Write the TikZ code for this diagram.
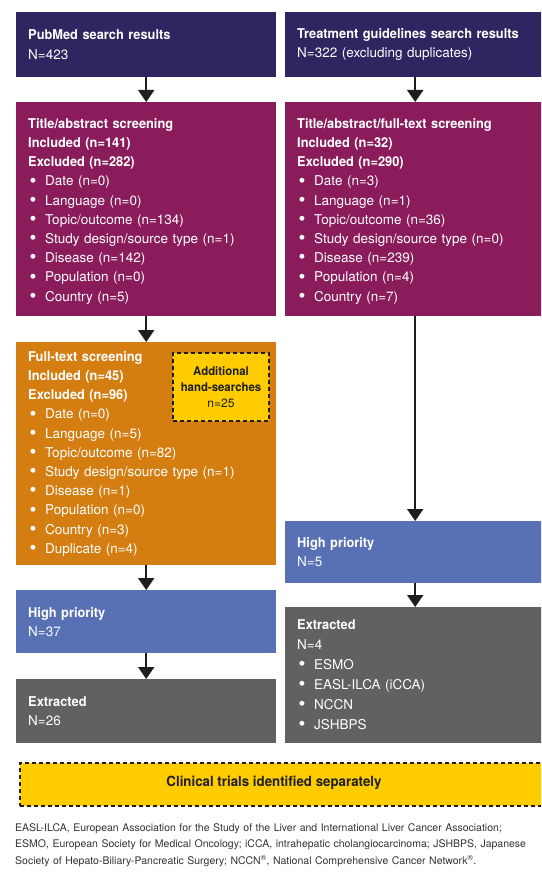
\documentclass[tikz,border=0pt]{standalone}
\usepackage{fontspec}
\setmainfont{TeX Gyre Heros}[BoldFeatures={FakeStretch=0.95}]
\usepackage{tikz}
\usetikzlibrary{arrows.meta}

\definecolor{searchcol}{HTML}{2D2660}
\definecolor{screencol}{HTML}{8A1C5B}
\definecolor{fullcol}{HTML}{D47E12}
\definecolor{prioritycol}{HTML}{5870B4}
\definecolor{extractcol}{HTML}{616161}
\definecolor{handcol}{HTML}{FFCC00}
\definecolor{arrowcol}{HTML}{1E1E1E}
\definecolor{notecol}{HTML}{333333}

\newcommand{\bul}{\makebox[17pt][l]{\hspace{1.5pt}\raisebox{-1.2pt}{\scalebox{1.45}{\textbullet}}}}

\begin{document}
\begin{tikzpicture}[x=1pt,y=-1pt,
    box/.style={anchor=north west, minimum width=260pt, text width=236pt,
        inner xsep=12pt, inner ysep=0pt, align=left, text=white,
        font=\fontsize{13.5}{19.2}\selectfont},
    dashbox/.style={draw=arrowcol, fill=handcol, line width=2pt,
        dash pattern=on 4pt off 3pt, anchor=north west, inner sep=0pt},
    arr/.style={-{Triangle[width=16pt,length=12pt]}, line width=2pt, draw=arrowcol}]

\useasboundingbox (0,0) rectangle (541,890);
\clip (0,0) rectangle (541,890);

% left column
\node[box, fill=searchcol, minimum height=65pt] (pubmed) at (16,12)
    {\textbf{PubMed search results}\\N=423};
\node[box, fill=screencol, minimum height=214pt] (tas) at (16,102)
    {\rule{0pt}{14pt}\textbf{Title/abstract screening}\\\textbf{Included (n=141)}\\\textbf{Excluded (n=282)}\\
     \bul Date (n=0)\\\bul Language (n=0)\\\bul Topic/outcome (n=134)\\
     \bul Study design/source type (n=1)\\\bul Disease (n=142)\\
     \bul Population (n=0)\\\bul Country (n=5)};
\node[box, fill=fullcol, minimum height=223pt] (fts) at (16,342)
    {\textbf{Full-text screening}\\\textbf{Included (n=45)}\\\textbf{Excluded (n=96)}\\
     \bul Date (n=0)\\\bul Language (n=5)\\\bul Topic/outcome (n=82)\\
     \bul Study design/source type (n=1)\\\bul Disease (n=1)\\
     \bul Population (n=0)\\\bul Country (n=3)\\\bul Duplicate (n=4)};
\node[box, fill=prioritycol, minimum height=63pt] (hpl) at (16,590)
    {\textbf{High priority}\\N=37};
\node[box, fill=extractcol, minimum height=64pt] (exl) at (16,679)
    {\textbf{Extracted}\\N=26};

% right column
\node[box, fill=searchcol, minimum height=65pt] (tgs) at (285,12)
    {\textbf{Treatment guidelines search results}\\N=322 (excluding duplicates)};
\node[box, fill=screencol, minimum height=214pt] (tfs) at (285,102)
    {\rule{0pt}{14pt}\textbf{Title/abstract/full-text screening}\\\textbf{Included (n=32)}\\\textbf{Excluded (n=290)}\\
     \bul Date (n=3)\\\bul Language (n=1)\\\bul Topic/outcome (n=36)\\
     \bul Study design/source type (n=0)\\\bul Disease (n=239)\\
     \bul Population (n=4)\\\bul Country (n=7)};
\node[box, fill=prioritycol, minimum height=62pt] (hpr) at (285,521)
    {\textbf{High priority}\\N=5};
\node[box, fill=extractcol, minimum height=136pt,
    font=\fontsize{13.5}{20}\selectfont] (exr) at (285,607)
    {\textbf{Extracted}\\N=4\\\bul ESMO\\\bul EASL-ILCA (iCCA)\\\bul NCCN\\\bul JSHBPS};

% hand-searches and clinical trials
\node[dashbox, minimum width=96pt, minimum height=68pt, text width=96pt, align=center,
    text=arrowcol, font=\fontsize{12}{16}\selectfont] (hand) at (172,352)
    {\textbf{Additional}\\\textbf{hand-searches}\\n=25};
\node[dashbox, minimum width=529pt, minimum height=43pt] (trials) at (19,762) {};
\node[text=arrowcol, font=\fontsize{14}{16}\selectfont\bfseries] (trialstxt) at (274,783)
    {Clinical trials identified separately};

\draw[arr] (pubmed) -- (tas);
\draw[arr] (tas) -- (fts);
\draw[arr] (fts) -- (hpl);
\draw[arr] (hpl) -- (exl);
\draw[arr] (tgs) -- (tfs);
\draw[arr] (tfs) -- (hpr);
\draw[arr] (hpr) -- (exr);

% footnote
\node[anchor=north west, inner sep=0pt, text width=526pt, align=left, text=notecol,
    font=\fontsize{10.5}{16.5}\selectfont] (note) at (15,823)
    {EASL-ILCA, European Association for the Study of the Liver and International Liver Cancer Association;\\
     ESMO, European Society for Medical Oncology; iCCA, intrahepatic cholangiocarcinoma; JSHBPS, Japanese\\
     Society of Hepato-Biliary-Pancreatic Surgery; NCCN\textsuperscript{®}, National Comprehensive Cancer Network\textsuperscript{®}.};

\end{tikzpicture}
\end{document}
